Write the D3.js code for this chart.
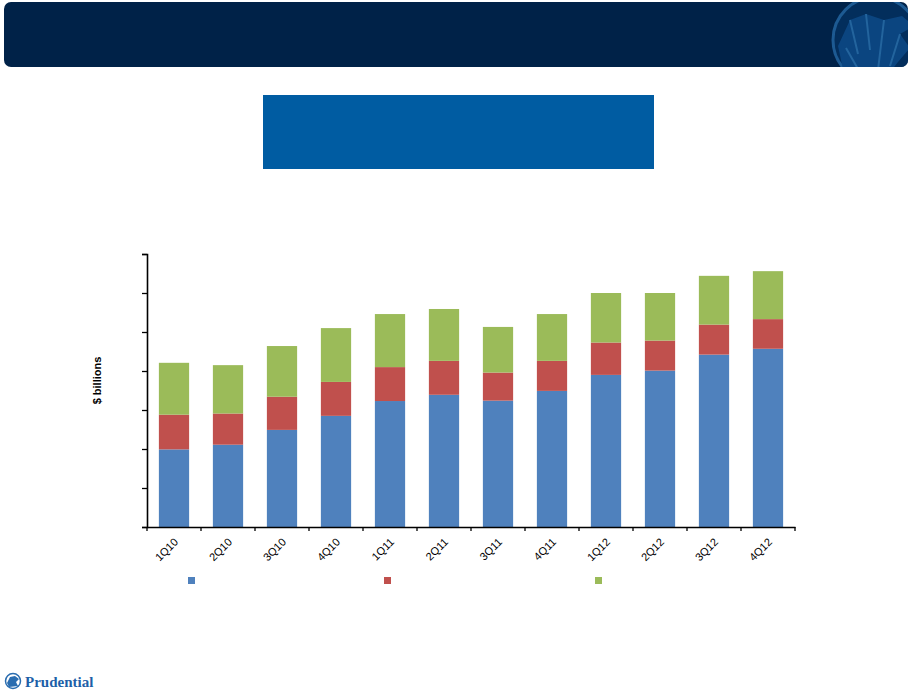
<!DOCTYPE html>
<html>
<head>
<meta charset="utf-8">
<script src="https://cdn.jsdelivr.net/npm/d3@7"></script>
<style>
  body { margin: 0; background: #fff; }
  svg { display: block; }
</style>
</head>
<body>
<svg id="chart" width="910" height="693"></svg>
<script>
// quarters on the x axis
const quarters = ["1Q10", "2Q10", "3Q10", "4Q10", "1Q11", "2Q11", "3Q11", "4Q11", "1Q12", "2Q12", "3Q12", "4Q12"];

// stacked series, $ billions (bottom to top)
const seriesBlue = [19.9, 21.1, 24.9, 28.5, 32.3, 33.9, 32.4, 34.9, 39.0, 40.1, 44.2, 45.7];
const seriesRed = [8.9, 8.0, 8.5, 8.7, 8.7, 8.7, 7.2, 7.7, 8.3, 7.7, 7.7, 7.6];
const seriesGreen = [13.3, 12.4, 13.0, 13.8, 13.6, 13.3, 11.7, 12.0, 12.7, 12.2, 12.5, 12.3];

const seriesKeys = ["blue", "red", "green"];
const seriesColors = ["#4f81bd", "#c0504d", "#9bbb59"];

// y ticks (labels are blank in the original)
const yTicks = [0, 10, 20, 30, 40, 50, 60, 70];

const svg = d3.select("#chart");

const margin = { left: 147, top: 254, right: 115, bottom: 166 };
const width = 910 - margin.left - margin.right;
const height = 693 - margin.top - margin.bottom;

/* ---------- header banner ---------- */
const defs = svg.append("defs");
defs.append("clipPath").attr("id", "hdr-clip")
  .append("rect")
  .attr("x", 4).attr("y", 2).attr("width", 904).attr("height", 65).attr("rx", 7);

const hdr = svg.append("g").attr("clip-path", "url(#hdr-clip)");
hdr.append("rect")
  .attr("x", 4).attr("y", 2).attr("width", 904).attr("height", 65)
  .attr("fill", "#002248");

// rock logo, faded into the banner
const rock = hdr.append("g").attr("transform", "translate(876, 40)");
rock.append("circle").attr("r", 43).attr("fill", "#032e5c").attr("stroke", "#1d5a92").attr("stroke-width", 3);
rock.append("path")
  .attr("d", "M-38,6 L-26,-20 L-10,-26 L8,-20 L26,-24 L38,-14 L24,-6 L34,8 L22,22 L8,40 L-32,34 Z")
  .attr("fill", "#0b4580");
rock.append("path")
  .attr("d", "M-26,-20 L-18,14 M-10,-26 L-6,10 M8,-20 L2,30 M-30,8 L-14,36 M24,-6 L14,26")
  .attr("stroke", "#23649d").attr("stroke-width", 2).attr("fill", "none");

/* ---------- blue title box ---------- */
svg.append("rect")
  .attr("x", 263).attr("y", 95).attr("width", 391).attr("height", 74)
  .attr("fill", "#005ca2");

/* ---------- chart ---------- */
const g = svg.append("g").attr("transform", `translate(${margin.left},${margin.top})`);

const rows = quarters.map((q, i) => ({
  quarter: q,
  blue: seriesBlue[i],
  red: seriesRed[i],
  green: seriesGreen[i]
}));

const stacked = d3.stack().keys(seriesKeys)(rows);

const xScale = d3.scaleBand()
  .domain(quarters)
  .range([0, width])
  .paddingInner(0.44)
  .paddingOuter(0.22);

const yScale = d3.scaleLinear()
  .domain([0, 70])
  .range([height, 0]);

g.selectAll(".series")
  .data(stacked)
  .join("g")
  .attr("class", "series")
  .attr("fill", (d, i) => seriesColors[i])
  .selectAll("rect")
  .data(d => d)
  .join("rect")
  .attr("x", d => xScale(d.data.quarter))
  .attr("y", d => yScale(d[1]))
  .attr("width", xScale.bandwidth())
  .attr("height", d => yScale(d[0]) - yScale(d[1]));

// y axis, no labels
g.append("g")
  .attr("class", "y-axis")
  .call(d3.axisLeft(yScale).tickValues(yTicks).tickSize(5).tickFormat(() => ""))
  .call(a => a.select(".domain").attr("stroke-width", 1.6))
  .call(a => a.selectAll(".tick line").attr("stroke-width", 1.3));

// x axis: labels under bars, tick marks at category boundaries
const xAxis = g.append("g")
  .attr("class", "x-axis")
  .attr("transform", `translate(0,${height})`)
  .call(d3.axisBottom(xScale).tickSize(0).tickPadding(0));

xAxis.select(".domain").attr("stroke-width", 1.6);

xAxis.selectAll(".tick text")
  .attr("font-family", "Arial, 'Liberation Sans', sans-serif")
  .attr("font-size", 11)
  .attr("fill", "#000")
  .attr("text-anchor", "end")
  .attr("transform", "translate(2,13) rotate(-45)")
  .attr("dy", "0.35em")
  .attr("y", 0);

const boundaries = quarters.map(q => xScale(q) - xScale.step() * xScale.paddingInner() / 2)
  .concat([width]);
xAxis.selectAll(".bound")
  .data(boundaries)
  .join("line")
  .attr("class", "bound")
  .attr("x1", d => d).attr("x2", d => d)
  .attr("y1", 0).attr("y2", 4)
  .attr("stroke", "#000").attr("stroke-width", 1.3);

// y axis title
svg.append("text")
  .attr("transform", `translate(101, ${margin.top + height / 2 - 10}) rotate(-90)`)
  .attr("text-anchor", "middle")
  .attr("font-family", "Arial, 'Liberation Sans', sans-serif")
  .attr("font-size", 11)
  .attr("font-weight", "bold")
  .text("$ billions");

// legend markers (legend text is empty in the original)
const legendX = [188, 384, 595];
svg.selectAll(".legend-key")
  .data(seriesColors)
  .join("rect")
  .attr("class", "legend-key")
  .attr("x", (d, i) => legendX[i])
  .attr("y", 577)
  .attr("width", 7).attr("height", 7)
  .attr("fill", d => d);

/* ---------- footer logo ---------- */
const foot = svg.append("g").attr("transform", "translate(13, 681)");
foot.append("circle").attr("r", 7.5).attr("fill", "#fff").attr("stroke", "#2a6db0").attr("stroke-width", 1.5);
foot.append("path")
  .attr("d", "M-6,2 L-3,-4 L2,-5 L6,-2 L3,1 L5,5 L-4,6 Z")
  .attr("fill", "#2a6db0");
svg.append("text")
  .attr("x", 25).attr("y", 687)
  .attr("font-family", "'Liberation Serif', 'Times New Roman', serif")
  .attr("font-size", 15)
  .attr("font-weight", "bold")
  .attr("fill", "#1e5fa8")
  .text("Prudential");
</script>
</body>
</html>
